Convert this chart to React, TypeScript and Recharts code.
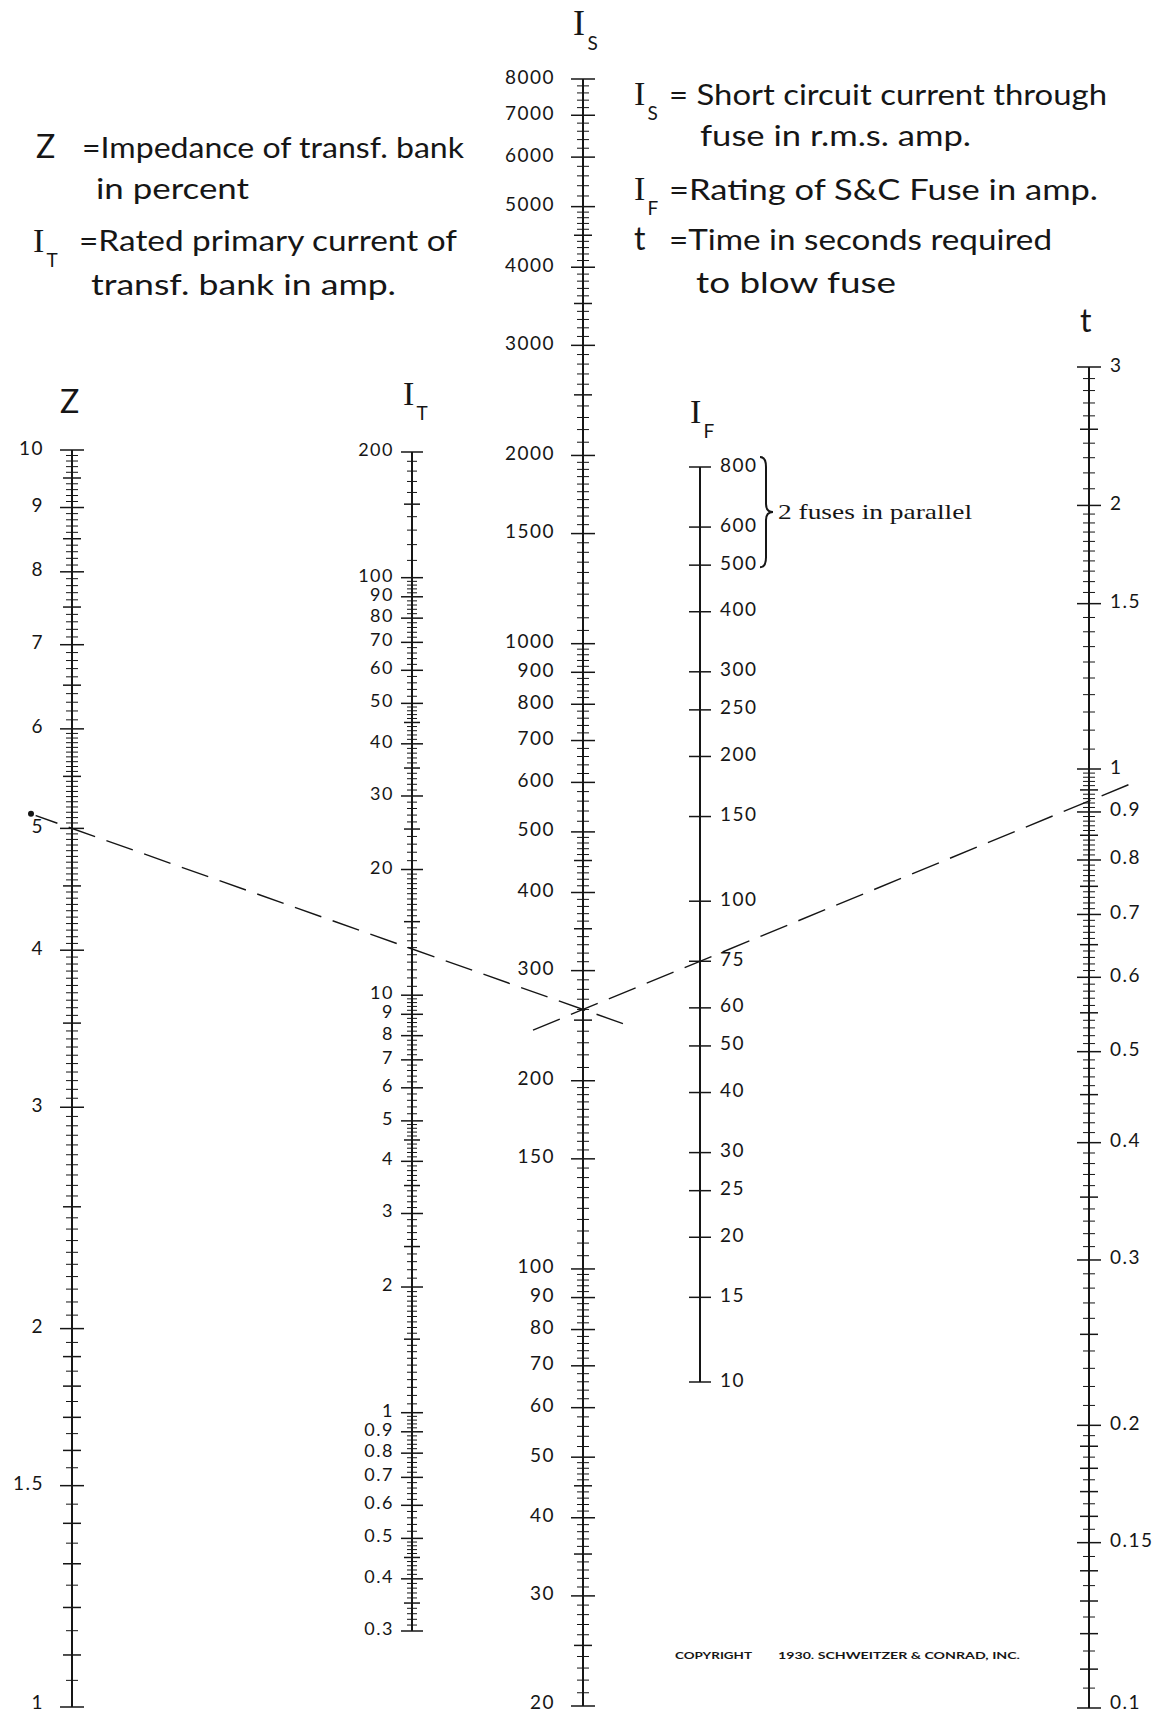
import { ComposedChart, Customized, Line, Scatter, XAxis, YAxis } from 'recharts';

const W = 1176;
const H = 1714;
const INK = '#161616';
const SANS = 'Lato, "Open Sans", sans-serif';
const SERIF = '"Liberation Serif", "DejaVu Serif", serif';

// labelled values on each scale
const zLabels = [10, 9, 8, 7, 6, 5, 4, 3, 2, 1.5, 1];
const itLabels = [200, 100, 90, 80, 70, 60, 50, 40, 30, 20, 10, 9, 8, 7, 6, 5, 4, 3, 2, 1, 0.9, 0.8, 0.7, 0.6, 0.5, 0.4, 0.3];
const isLabels = [8000, 7000, 6000, 5000, 4000, 3000, 2000, 1500, 1000, 900, 800, 700, 600, 500, 400, 300, 200, 150, 100, 90, 80, 70, 60, 50, 40, 30, 20];
const ifLabels = [800, 600, 500, 400, 300, 250, 200, 150, 100, 75, 60, 50, 40, 30, 25, 20, 15, 10];
const tLabels = [3, 2, 1.5, 1, 0.9, 0.8, 0.7, 0.6, 0.5, 0.4, 0.3, 0.2, 0.15, 0.1];

// graduations: [from, to, step, longer tick every]
const zGrad = [[1, 2, 0.05, 0.1], [2, 6, 0.05, 0.5], [6, 10, 0.1, 0.5]];
const itGrad = [
  [0.3, 0.5, 0.01, 0.05], [0.5, 1, 0.02, 0.1], [1, 2, 0.05, 0.5], [2, 5, 0.1, 0.5],
  [5, 10, 0.2, 1], [10, 20, 0.5, 5], [20, 50, 1, 5], [50, 100, 2, 10], [100, 200, 10, 50],
];
const isGrad = [
  [20, 50, 1, 5], [50, 100, 2, 10], [100, 200, 5, 50], [200, 500, 10, 50],
  [500, 1000, 20, 100], [1000, 2000, 50, 500], [2000, 5000, 100, 500], [5000, 8000, 200, 1000],
];
const tGrad = [[0.1, 0.2, 0.005, 0.01], [0.2, 0.5, 0.01, 0.05], [0.5, 1, 0.01, 0.05], [1, 2, 0.05, 0.5], [2, 3, 0.1, 0.5]];

// worked example (dashed): Z = 5 %, I_T = 13 A  ->  I_S = 260 A ; with I_F = 75 A  ->  t = 0.92 s
const exZ = 5;
const exIS = 260;
const exIF = 75;

// page layout of each scale: x of the stem, and where its end values sit
type Ax = { x: number; top: number; yTop: number; bot: number; yBot: number };
const perDecade = (a: Ax) => (a.yBot - a.yTop) / Math.log10(a.top / a.bot);
const pos = (a: Ax, v: number) => a.yTop + Math.log10(a.top / v) * perDecade(a);
const valueAt = (a: Ax, y: number) => a.top / 10 ** ((y - a.yTop) / perDecade(a));
const domainOf = (a: Ax): [number, number] => [valueAt(a, H), valueAt(a, 0)];

const Z: Ax = { x: 72, top: 10, yTop: 450, bot: 1, yBot: 1707 };
const IT: Ax = { x: 412, top: 200, yTop: 452, bot: 0.3, yBot: 1631 };
const IS: Ax = { x: 583, top: 8000, yTop: 79, bot: 20, yBot: 1706 };
const IF: Ax = { x: 700, top: 800, yTop: 467, bot: 10, yBot: 1382 };
const TL: Ax = { x: 1089, top: 1, yTop: 769, bot: 0.1, yBot: 1708 };
// above 1.5 s the time scale is compressed
const TH: Ax = { x: 1089, top: 3, yTop: 367, bot: 1.5, yBot: pos(TL, 1.5) };

const near = (a: number, b: number) => Math.abs(a - b) < 1e-7;
const multipleOf = (v: number, e: number) => near(v / e, Math.round(v / e));

type Tick = { x: number; v: number; kind: 'major' | 'mid' | 'minor' };
const buildTicks = (ax: Ax, grad: number[][], labels: number[], keep = (_v: number) => true): Tick[] => {
  const vals: number[] = [...labels];
  const every = new Map<number, number>();
  grad.forEach(([from, to, step, ev]) => {
    const n = Math.round((to - from) / step);
    for (let i = 0; i <= n; i++) {
      const v = +(from + i * step).toFixed(5);
      if (!every.has(v)) every.set(v, ev);
      if (!vals.some((w) => near(w, v))) vals.push(v);
    }
  });
  return vals.filter(keep).map((v) => ({
    x: ax.x,
    v,
    kind: labels.some((l) => near(l, v)) ? 'major' : multipleOf(v, every.get(v) ?? 1e9) ? 'mid' : 'minor',
  }));
};

const zTicks = buildTicks(Z, zGrad, zLabels);
const itTicks = buildTicks(IT, itGrad, itLabels);
const isTicks = buildTicks(IS, isGrad, isLabels);
const ifTicks = buildTicks(IF, [], ifLabels);
const tLowTicks = buildTicks(TL, tGrad, tLabels, (v) => v <= 1.5);
const tHighTicks = buildTicks(TH, tGrad, tLabels, (v) => v > 1.5);

// straight dashed line through a value on scale a and a value on scale b, expressed in b's units
const dashed = (a: Ax, va: number, b: Ax, vb: number, x0: number, x1: number) => {
  const ya = pos(a, va);
  const yb = pos(b, vb);
  const at = (x: number) => ya + ((yb - ya) * (x - a.x)) / (b.x - a.x);
  return [
    { x: x0, v: valueAt(b, at(x0)) },
    { x: x1, v: valueAt(b, at(x1)) },
  ];
};
const line1 = dashed(Z, exZ, IS, exIS, 31, 623);
const line2 = dashed(IS, exIS, IF, exIF, 533, 1129);

const stem = (a: Ax, lo: number, hi: number) => [
  { x: a.x, v: lo },
  { x: a.x, v: hi },
];

type TickStyle = { major: number; mid: number; minor: number; dx: number; size: number };
const fmt = (v: number) => String(v);

const tickShape = (s: TickStyle) => (props: any) => {
  const { cx, cy, payload } = props;
  const kind = payload.kind;
  const half = kind === 'major' ? s.major : kind === 'mid' ? s.mid : s.minor;
  return (
    <g>
      <line x1={cx - half} x2={cx + half} y1={cy} y2={cy} stroke={INK} strokeWidth={kind === 'minor' ? 1 : 1.5} />
      {kind === 'major' && (
        <text
          x={cx + s.dx}
          y={Math.min(cy - 3, H - 13)}
          textAnchor={s.dx < 0 ? 'end' : 'start'}
          dominantBaseline="central"
          fontFamily={SANS}
          fontSize={s.size}
          letterSpacing={1.5}
          fill={INK}
        >
          {fmt(payload.v)}
        </text>
      )}
    </g>
  );
};

const Sym = ({ x, y, main, sub, size = 34 }: { x: number; y: number; main: string; sub: string; size?: number }) => (
  <>
    <text x={x} y={y} fontFamily={SERIF} fontSize={size}>{main}</text>
    <text x={x + size * 0.4} y={y + 15} fontFamily={SANS} fontSize={19}>{sub}</text>
  </>
);

const Annotations = () => {
  const b800 = pos(IF, 800) - 10;
  const b500 = pos(IF, 500) + 2;
  const bm = (b800 + b500) / 2;
  const bx = IF.x + 66;
  return (
    <g fill={INK} fontFamily={SANS}>
      {/* scale names */}
      <Sym x={573} y={35} main="I" sub="S" size={36} />
      <text x={60} y={413} fontSize={32}>Z</text>
      <Sym x={403} y={405} main="I" sub="T" />
      <Sym x={690} y={423} main="I" sub="F" />
      <text x={1080} y={332} fontSize={32}>t</text>

      {/* legend, left */}
      <text x={36} y={158} fontSize={32}>Z</text>
      <text x={82} y={158} fontSize={29} textLength={382} lengthAdjust="spacingAndGlyphs">=Impedance of transf. bank</text>
      <text x={96} y={199} fontSize={29} textLength={153} lengthAdjust="spacingAndGlyphs">in percent</text>
      <Sym x={33} y={252} main="I" sub="T" />
      <text x={79} y={251} fontSize={29} textLength={378} lengthAdjust="spacingAndGlyphs">=Rated primary current of</text>
      <text x={91} y={295} fontSize={29} textLength={305} lengthAdjust="spacingAndGlyphs">transf. bank in amp.</text>

      {/* legend, right */}
      <Sym x={634} y={105} main="I" sub="S" />
      <text x={669} y={105} fontSize={29} textLength={438} lengthAdjust="spacingAndGlyphs">= Short circuit current through</text>
      <text x={700} y={146} fontSize={29} textLength={271} lengthAdjust="spacingAndGlyphs">fuse in r.m.s. amp.</text>
      <Sym x={634} y={200} main="I" sub="F" />
      <text x={669} y={200} fontSize={29} textLength={429} lengthAdjust="spacingAndGlyphs">=Rating  of S&amp;C Fuse in amp.</text>
      <text x={634} y={250} fontSize={32}>t</text>
      <text x={669} y={250} fontSize={29} textLength={383} lengthAdjust="spacingAndGlyphs">=Time in seconds required</text>
      <text x={696} y={293} fontSize={29} textLength={200} lengthAdjust="spacingAndGlyphs">to blow fuse</text>

      {/* bracket on the fuse scale */}
      <path
        d={`M ${bx - 6} ${b800} Q ${bx} ${b800} ${bx} ${b800 + 10} L ${bx} ${bm - 8} Q ${bx} ${bm} ${bx + 7} ${bm} Q ${bx} ${bm} ${bx} ${bm + 8} L ${bx} ${b500 - 10} Q ${bx} ${b500} ${bx - 6} ${b500}`}
        fill="none"
        stroke={INK}
        strokeWidth={2}
      />
      <text x={bx + 12} y={bm + 7} fontFamily={SERIF} fontSize={21} textLength={194} lengthAdjust="spacingAndGlyphs">
        2 fuses in parallel
      </text>

      <text x={675} y={1659} fontSize={10} fontWeight={700} textLength={77} lengthAdjust="spacingAndGlyphs">COPYRIGHT</text>
      <text x={778} y={1659} fontSize={10} fontWeight={700} textLength={242} lengthAdjust="spacingAndGlyphs">
        1930. SCHWEITZER &amp; CONRAD, INC.
      </text>
    </g>
  );
};

const zStyle: TickStyle = { major: 12, mid: 9, minor: 6, dx: -28, size: 19 };
const itStyle: TickStyle = { major: 11, mid: 8, minor: 5, dx: -18, size: 18 };
const isStyle: TickStyle = { major: 12, mid: 9, minor: 6, dx: -28, size: 19 };
const ifStyle: TickStyle = { major: 11, mid: 11, minor: 11, dx: 20, size: 19 };
const tStyle: TickStyle = { major: 12, mid: 9, minor: 6, dx: 21, size: 19 };

const scales: { id: string; ax: Ax }[] = [
  { id: 'Z', ax: Z },
  { id: 'IT', ax: IT },
  { id: 'IS', ax: IS },
  { id: 'IF', ax: IF },
  { id: 'TL', ax: TL },
  { id: 'TH', ax: TH },
];

const App = () => {
  return (
    <div style={{ position: 'absolute', left: 0, top: 0, width: W, height: H, background: '#fff' }}>
      <ComposedChart width={W} height={H} margin={{ top: 0, right: 0, bottom: 0, left: 0 }}>
        <XAxis type="number" dataKey="x" domain={[0, W]} allowDataOverflow hide />
        {scales.map(({ id, ax }) => (
          <YAxis key={id} yAxisId={id} type="number" dataKey="v" scale="log" domain={domainOf(ax)} allowDataOverflow hide />
        ))}

        {/* stems */}
        <Line yAxisId="Z" data={stem(Z, 1, 10)} dataKey="v" stroke={INK} strokeWidth={2} dot={false} isAnimationActive={false} />
        <Line yAxisId="IT" data={stem(IT, 0.3, 200)} dataKey="v" stroke={INK} strokeWidth={2} dot={false} isAnimationActive={false} />
        <Line yAxisId="IS" data={stem(IS, 20, 8000)} dataKey="v" stroke={INK} strokeWidth={2} dot={false} isAnimationActive={false} />
        <Line yAxisId="IF" data={stem(IF, 10, 800)} dataKey="v" stroke={INK} strokeWidth={2} dot={false} isAnimationActive={false} />
        <Line yAxisId="TL" data={stem(TL, 0.1, 1.5)} dataKey="v" stroke={INK} strokeWidth={2} dot={false} isAnimationActive={false} />
        <Line yAxisId="TH" data={stem(TH, 1.5, 3)} dataKey="v" stroke={INK} strokeWidth={2} dot={false} isAnimationActive={false} />

        {/* graduations */}
        <Scatter yAxisId="Z" data={zTicks} shape={tickShape(zStyle)} isAnimationActive={false} />
        <Scatter yAxisId="IT" data={itTicks} shape={tickShape(itStyle)} isAnimationActive={false} />
        <Scatter yAxisId="IS" data={isTicks} shape={tickShape(isStyle)} isAnimationActive={false} />
        <Scatter yAxisId="IF" data={ifTicks} shape={tickShape(ifStyle)} isAnimationActive={false} />
        <Scatter yAxisId="TL" data={tLowTicks} shape={tickShape(tStyle)} isAnimationActive={false} />
        <Scatter yAxisId="TH" data={tHighTicks} shape={tickShape(tStyle)} isAnimationActive={false} />

        {/* example solution */}
        <Line yAxisId="IS" data={line1} dataKey="v" stroke={INK} strokeWidth={1.4} strokeDasharray="28 12" dot={false} isAnimationActive={false} />
        <Line yAxisId="IF" data={line2} dataKey="v" stroke={INK} strokeWidth={1.4} strokeDasharray="29 12" dot={false} isAnimationActive={false} />

        <Customized component={<Annotations />} />
      </ComposedChart>
    </div>
  );
};

export default App;
